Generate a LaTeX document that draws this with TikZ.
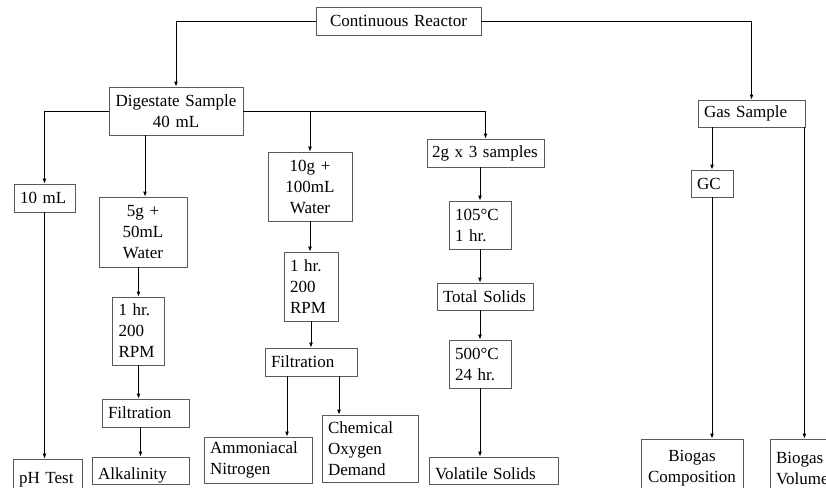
\documentclass[tikz,border=0pt]{standalone}
\usepackage{fontspec}
\setmainfont{Liberation Serif}
\usetikzlibrary{arrows.meta, calc, positioning}

\tikzset{
    box/.style={draw=black!65, line width=0.8pt, inner xsep=6pt, inner ysep=2pt, align=left, font=\fontsize{17}{21}\selectfont},
    arr/.style={-{Latex[length=5pt, width=4pt]}, line width=0.9pt},
    low/.style={text height=20pt, text depth=3pt},
}

\begin{document}
\begin{tikzpicture}[x=1pt, y=-1pt]
    \useasboundingbox (0,0) rectangle (826,487);
    \clip (0,0) rectangle (826,487);

    % 反应器
    \node[box, align=center, text width=153pt, minimum height=28pt] (reactor) at (398.5,21) {Continuous Reactor};
    \node[box, align=center, text width=122pt, minimum height=48pt] (digest) at (176,111) {Digestate Sample\\40 mL};

    % pH
    \node[box, text width=49pt, minimum height=28pt] (ml10) at (44.5,198) {10 mL};
    \node[box, low, text width=57pt, minimum height=32pt] (ph) at (47.5,475) {pH Test};

    % 碱度
    \node[box, align=center, text width=76pt, minimum height=70pt] (g5) at (143,232) {5g +\\50mL\\Water};
    \node[box, text width=40pt, minimum height=68pt] (rpmA) at (138.5,331) {1 hr.\\200\\RPM};
    \node[box, text width=75pt, minimum height=28pt] (filtA) at (145.5,413) {Filtration};
    \node[box, low, text width=85pt, minimum height=27pt] (alk) at (140.5,470.5) {Alkalinity};

    % 氨氮, COD
    \node[box, align=center, text width=72pt, minimum height=69pt] (g10) at (310,186.5) {10g +\\100mL\\Water};
    \node[box, text width=42pt, minimum height=69pt] (rpmB) at (311,286.5) {1 hr.\\200\\RPM};
    \node[box, text width=80pt, minimum height=28pt] (filtB) at (311,362) {Filtration};
    \node[box, text width=96pt, minimum height=46pt] (ammo) at (258,460) {Ammoniacal\\Nitrogen};
    \node[box, text width=84pt, minimum height=67pt] (cod) at (370,448.5) {Chemical\\Oxygen\\Demand};

    % 固体
    \node[box, inner xsep=5pt, text width=107pt, minimum height=28pt] (g2) at (485.5,153) {2g x 3 samples};
    \node[box, text width=50pt, minimum height=48pt] (dry) at (480,225) {105°C\\1 hr.};
    \node[box, text width=84pt, minimum height=27pt] (ts) at (485,296.5) {Total Solids};
    \node[box, text width=50pt, minimum height=48pt] (ash) at (480,364) {500°C\\24 hr.};
    \node[box, low, text width=117pt, minimum height=27pt] (vs) at (493.5,470.5) {Volatile Solids};

    % 气体
    \node[box, text width=95pt, minimum height=27pt] (gas) at (751.5,113.5) {Gas Sample};
    \node[box, text width=30pt, minimum height=27pt] (gc) at (712,183.5) {GC};
    \node[box, align=center, text width=90pt, minimum height=58pt] (comp) at (692,468) {Biogas\\Composition};
    \node[box, text width=98pt, minimum height=58pt] (vol) at (825,468) {Biogas\\Volume};

    % 连线
    \draw[arr] (reactor.west) -| (digest.north);
    \draw[arr] (reactor.east) -| (gas.north);
    \draw[arr] (digest.west) -| (ml10.north);
    \draw[arr] (digest.east) -| (g2.north);
    \draw[arr] (g10.north |- digest.east) -- (g10.north);
    \draw[arr] ([xshift=-31pt]digest.south) -- ([xshift=-31pt]digest.south |- g5.north);

    \draw[arr] (ml10.south) -- (ml10.south |- ph.north);

    \draw[arr] (rpmA.north |- g5.south) -- (rpmA.north);
    \draw[arr] (rpmA.south) -- (rpmA.south |- filtA.north);
    \draw[arr] (alk.north |- filtA.south) -- (alk.north);

    \draw[arr] (g10.south) -- (g10.south |- rpmB.north);
    \draw[arr] (rpmB.south) -- (rpmB.south |- filtB.north);
    \draw[arr] ([xshift=-24pt]filtB.south) -- ([xshift=-24pt]filtB.south |- ammo.north);
    \draw[arr] ([xshift=28pt]filtB.south) -- ([xshift=28pt]filtB.south |- cod.north);

    \draw[arr] (dry.north |- g2.south) -- (dry.north);
    \draw[arr] (dry.south) -- (dry.south |- ts.north);
    \draw[arr] (ash.north |- ts.south) -- (ash.north);
    \draw[arr] (ash.south) -- (ash.south |- vs.north);

    \draw[arr] (gc.north |- gas.south) -- (gc.north);
    \draw[arr] (gc.south) -- (gc.south |- comp.north);
    \draw[arr] ([xshift=-1pt]gas.south east) -- ([xshift=-1pt]gas.south east |- vol.north);
\end{tikzpicture}
\end{document}
